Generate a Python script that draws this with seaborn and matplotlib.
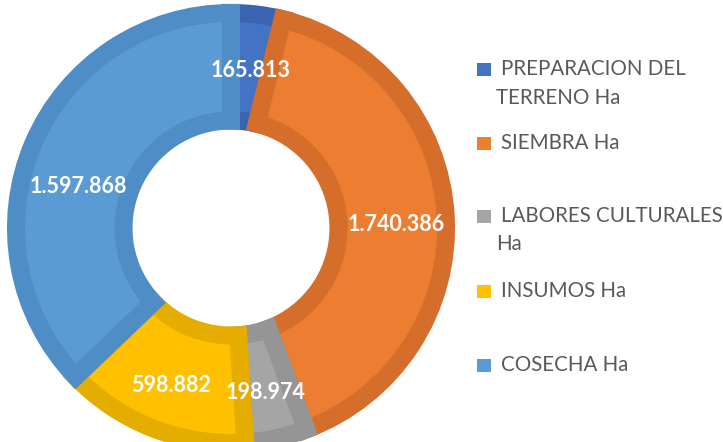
import matplotlib
matplotlib.use("Agg")
import matplotlib.pyplot as plt
import seaborn as sns
from matplotlib.patches import Rectangle
from matplotlib.transforms import offset_copy

categories = ["PREPARACION DEL TERRENO Ha", "SIEMBRA Ha", "LABORES CULTURALES Ha",
              "INSUMOS Ha", "COSECHA Ha"]
legend_lines = [["PREPARACION DEL", "TERRENO Ha"], ["SIEMBRA Ha"],
                ["LABORES CULTURALES", "Ha"], ["INSUMOS Ha"], ["COSECHA Ha"]]
values = [165813, 1740386, 198974, 598882, 1597868]
fill_colors = ["#4472C4", "#ED7D31", "#A5A5A5", "#FFC000", "#5B9BD5"]
edge_colors = ["#3A64B2", "#D56E2B", "#959595", "#E5AD00", "#4F8DC6"]

sns.set_theme(style="white")
plt.rcParams["font.family"] = ["Lato", "DejaVu Sans"]

W, H = 723, 442
fig = plt.figure(figsize=(W / 100, H / 100), dpi=100)
R = 215
cx, cy = 231, 228
ax = fig.add_axes([(cx - R) / W, (H - cy - R) / H, 2 * R / W, 2 * R / H])

total = sum(values)


def fmt(pct):
    v = int(round(pct * total / 100))
    return f"{v:,}".replace(",", ".")


wedges, texts, autotexts = ax.pie(
    values, colors=fill_colors, startangle=90, counterclock=False, radius=1,
    wedgeprops=dict(width=0.5, linewidth=0), autopct=fmt, pctdistance=0.77,
    textprops=dict(color="white", fontweight="bold", fontsize=15.5))
for w, ec in zip(wedges, edge_colors):
    w.set_edgecolor(ec)
    w.set_linewidth(13)
    w.set_clip_path(w)

# small layout nudges (pixels down) to mimic the original label placement
label_nudge = [7, 6, 3, 3, 24]
for t, dy in zip(autotexts, label_nudge):
    t.set_zorder(5)
    t.set_transform(offset_copy(ax.transData, fig=fig, x=0, y=-dy * 0.72, units="points"))

ax.set_xlim(-1, 1)
ax.set_ylim(-1, 1)
ax.set_aspect("equal")
ax.axis("off")

# legend
entry_y = [69, 143, 215.5, 291, 365]
for i, (lines, col) in enumerate(zip(legend_lines, fill_colors)):
    yc = entry_y[i]
    fig.patches.append(Rectangle((477 / W, 1 - (yc + 7) / H), 14 / W, 13 / H,
                                 transform=fig.transFigure, facecolor=col,
                                 edgecolor="none"))
    for j, line in enumerate(lines):
        x = 501 if j == 0 else 496
        fig.text(x / W, 1 - (yc + j * 28.5) / H, line, ha="left", va="center",
                 fontsize=14.8, color="#595959")

fig.savefig("out.png", dpi=100)
